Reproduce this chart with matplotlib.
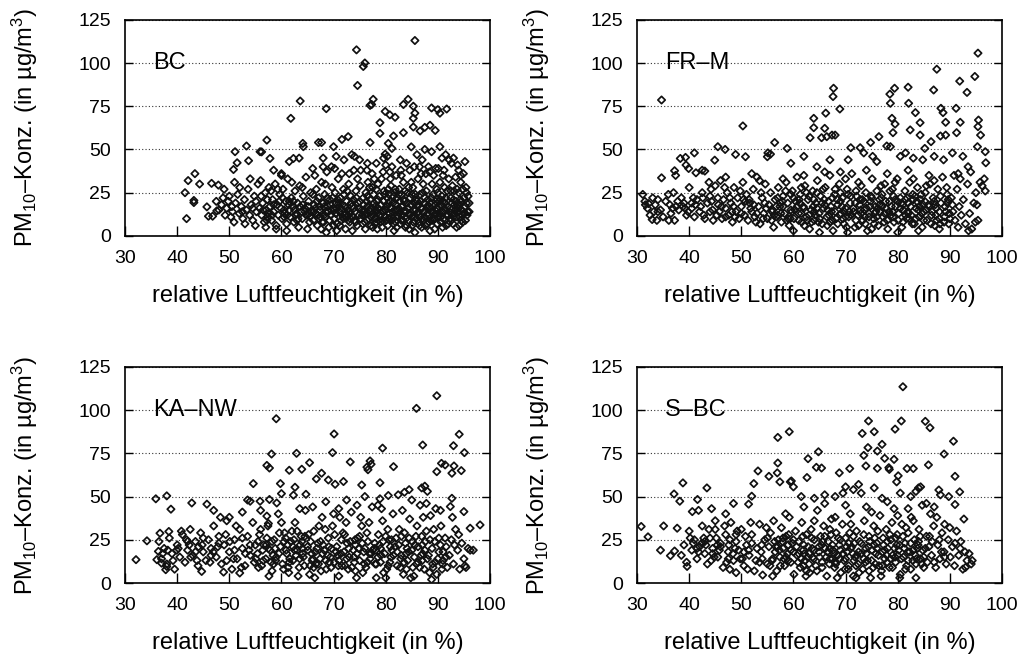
import matplotlib
matplotlib.use("Agg")
import numpy as np
import matplotlib.pyplot as plt

plt.rcParams["font.family"] = ["Liberation Sans", "DejaVu Sans"]
plt.rcParams["mathtext.fontset"] = "custom"
plt.rcParams["mathtext.rm"] = "Liberation Sans"
plt.rcParams["mathtext.it"] = "Liberation Sans:italic"
plt.rcParams["mathtext.default"] = "regular"

# station names
stations = ["BC", "FR\u2013M", "KA\u2013NW", "S\u2013BC"]

x_ticks = [30, 40, 50, 60, 70, 80, 90, 100]
y_ticks = [0, 25, 50, 75, 100, 125]

# (humidity, PM10) pairs, flat lists x0,y0,x1,y1,...
bc_pts = [
    # sparse / outliers
    85.6, 113, 74.4, 107.6, 75.7, 98, 76.0, 100, 74.6, 87, 63.6, 78, 61.8, 68, 68.6, 73.6,
    77.6, 79, 77.3, 76, 77.0, 75.5, 79.9, 72, 80.8, 70, 81.8, 68.6, 83.4, 76, 84.3, 79,
    85.3, 75, 85.6, 71, 85.3, 68, 88.8, 74, 90.0, 73, 90.4, 71, 91.7, 73.4, 78.9, 65.5,
    81.5, 57.8, 83.4, 59.7, 85.3, 63, 86.6, 60.7, 87.5, 62.8, 88.5, 64, 89.5, 61, 78.9, 59.3,
    77.0, 54, 72.8, 57.4, 71.6, 55.8, 70.0, 51.6, 67.1, 54, 67.7, 54, 64.1, 53.5, 64.2, 51.6,
    57.2, 55.4, 55.9, 48.7, 53.3, 52, 51.1, 48.7, 53.7, 43.5, 50.8, 38.4, 51.5, 42.3, 56.2, 48.6,
    57.8, 44.8, 61.5, 43, 62.3, 44.8, 63.4, 45, 80.5, 53.5, 81.2, 50.6, 84.9, 51.5, 88.8, 48.7,
    90.4, 51.6, 79.9, 47.3, 80.3, 46, 41.5, 25, 42.1, 32, 43.4, 36, 44.3, 30, 43.2, 20.5,
    43.2, 19.3, 41.8, 10, 46.6, 30.4, 47.9, 29.4, 45.7, 16.8, 46.0, 11.4, 46.8, 11.4, 47.6, 14.5,
    73.5, 47, 75.0, 44, 76.5, 42, 70.5, 46, 68.0, 45, 66.0, 39, 60.0, 36, 58.5, 38,
    86.0, 47, 87.5, 50, 91.5, 47, 93.0, 45, 94.0, 38,
    # 48-56
    48.5, 18, 48.8, 22, 49.2, 12, 49.5, 16, 49.8, 20, 50.3, 11, 50.6, 14, 50.9, 8,
    51.2, 19, 51.6, 24, 51.9, 13, 52.3, 17, 52.6, 10, 52.9, 21, 53.3, 15, 53.6, 27,
    53.9, 12, 54.2, 18, 54.5, 9, 54.8, 23, 55.2, 14, 55.5, 30, 55.8, 16, 49.0, 27,
    50.0, 23, 51.0, 31, 52.0, 28, 53.0, 7, 54.0, 33, 55.0, 6, 48.0, 15, 47.5, 20,
    # 56-66
    56.2, 12, 56.4, 19, 56.7, 8, 56.9, 25, 57.1, 15, 57.4, 11, 57.6, 28, 57.8, 17,
    58.1, 9, 58.3, 21, 58.5, 14, 58.8, 30, 59.0, 6, 59.2, 18, 59.4, 12, 59.7, 24,
    59.9, 16, 60.1, 10, 60.3, 27, 60.6, 13, 60.8, 20, 61.0, 7, 61.2, 33, 61.5, 15,
    61.7, 11, 61.9, 22, 62.2, 17, 62.4, 8, 62.6, 26, 62.9, 13, 63.1, 19, 63.3, 5,
    63.5, 29, 63.8, 14, 64.0, 10, 64.2, 23, 64.5, 16, 64.7, 34, 64.9, 12, 65.2, 20,
    65.4, 8, 65.6, 25, 65.8, 14, 56.0, 32, 58.0, 26, 60.0, 35, 62.0, 31, 64.0, 28,
    57.0, 5, 59.0, 4, 61.0, 3, 63.0, 9, 65.0, 4, 57.3, 21, 59.6, 20, 61.4, 18,
    63.6, 17, 65.1, 17, 60.5, 15, 62.7, 12,
    # 66-75
    66.1, 9, 66.3, 18, 66.5, 13, 66.7, 27, 66.9, 6, 67.1, 22, 67.3, 15, 67.5, 11,
    67.7, 31, 67.9, 19, 68.1, 8, 68.3, 24, 68.5, 14, 68.7, 37, 68.9, 17, 69.1, 5,
    69.3, 21, 69.5, 12, 69.7, 28, 69.9, 16, 70.1, 10, 70.3, 25, 70.5, 19, 70.7, 7,
    70.9, 33, 71.1, 14, 71.3, 22, 71.5, 9, 71.7, 18, 71.9, 27, 72.1, 12, 72.3, 4,
    72.5, 20, 72.7, 15, 72.9, 30, 73.1, 8, 73.3, 23, 73.5, 17, 73.7, 11, 73.9, 38,
    74.1, 14, 74.3, 26, 74.5, 6, 74.7, 19, 74.9, 12, 75.1, 29, 66.4, 35, 67.6, 4,
    68.4, 30, 69.6, 40, 70.6, 3, 71.6, 36, 72.6, 26, 73.6, 3, 74.6, 33, 66.8, 20,
    67.2, 10, 68.2, 12, 68.8, 22, 69.2, 9, 70.2, 15, 70.8, 21, 71.2, 6, 71.8, 11,
    72.2, 17, 72.8, 9, 73.2, 13, 73.8, 21, 74.2, 8, 74.8, 16, 75.2, 10, 66.2, 14,
    67.4, 17, 69.4, 18, 70.4, 13, 71.4, 16, 72.4, 13, 73.4, 19, 74.4, 22, 75.4, 15, 68.6, 2,
    # 75-96
    75.6, 7, 75.8, 18, 76.0, 12, 76.2, 25, 76.4, 9, 76.6, 31, 76.8, 15, 77.0, 21,
    77.2, 6, 77.4, 36, 77.6, 13, 77.8, 19, 78.0, 10, 78.2, 27, 78.4, 4, 78.6, 16,
    78.8, 23, 79.0, 8, 79.2, 33, 79.4, 14, 79.6, 20, 79.8, 11, 80.0, 41, 80.2, 17,
    80.4, 6, 80.6, 24, 80.8, 13, 81.0, 29, 81.2, 9, 81.4, 19, 81.6, 3, 81.8, 15,
    82.0, 35, 82.2, 22, 82.4, 11, 82.6, 27, 82.8, 7, 83.0, 17, 83.2, 12, 83.4, 31,
    83.6, 20, 83.8, 5, 84.0, 14, 84.2, 25, 84.4, 9, 84.6, 38, 84.8, 18, 85.0, 11,
    85.2, 28, 85.4, 15, 85.6, 2, 85.8, 21, 86.0, 13, 86.2, 33, 86.4, 8, 86.6, 24,
    86.8, 16, 87.0, 10, 87.2, 30, 87.4, 19, 87.6, 6, 87.8, 26, 88.0, 13, 88.2, 40,
    88.4, 17, 88.6, 9, 88.8, 22, 89.0, 14, 89.2, 35, 89.4, 4, 89.6, 20, 89.8, 27,
    90.0, 11, 90.2, 17, 90.4, 31, 90.6, 8, 90.8, 23, 91.0, 14, 91.2, 38, 91.4, 19,
    91.6, 6, 91.8, 26, 92.0, 12, 92.2, 44, 92.4, 16, 92.6, 9, 92.8, 29, 93.0, 21,
    93.2, 13, 93.4, 34, 93.6, 5, 93.8, 18, 94.0, 25, 94.2, 11, 94.4, 31, 94.6, 15,
    94.8, 8, 95.0, 22, 95.2, 17, 95.4, 28, 95.6, 12, 95.8, 23, 96.0, 19,
    75.7, 22, 76.1, 4, 76.5, 17, 76.9, 28, 77.3, 11, 77.7, 24, 78.1, 15, 78.5, 30,
    78.9, 12, 79.3, 5, 79.7, 26, 80.1, 9, 80.5, 19, 80.9, 33, 81.3, 14, 81.7, 25,
    82.1, 5, 82.5, 16, 82.9, 38, 83.3, 9, 83.7, 26, 84.1, 19, 84.5, 4, 84.9, 31,
    85.3, 8, 85.7, 24, 86.1, 17, 86.5, 40, 86.9, 5, 87.3, 14, 87.7, 36, 88.1, 21,
    88.5, 3, 88.9, 30, 89.3, 10, 89.7, 16, 90.1, 39, 90.5, 21, 90.9, 5, 91.3, 28,
    91.7, 12, 92.1, 33, 92.5, 22, 92.9, 7, 93.3, 15, 93.7, 27, 94.1, 6, 94.5, 20,
    94.9, 36, 95.3, 9, 95.7, 14,
    75.9, 14, 76.3, 20, 76.7, 10, 77.1, 16, 77.5, 28, 77.9, 7, 78.3, 20, 78.7, 9,
    79.1, 18, 79.5, 37, 79.9, 15, 80.3, 22, 80.7, 10, 81.1, 16, 81.5, 23, 81.9, 8,
    82.3, 12, 82.7, 20, 83.1, 24, 83.5, 14, 83.9, 10, 84.3, 16, 84.7, 22, 85.1, 6,
    85.5, 19, 85.9, 10, 86.3, 14, 86.7, 20, 87.1, 25, 87.5, 11, 87.9, 17, 88.3, 8,
    88.7, 14, 89.1, 24, 89.5, 18, 89.9, 7, 90.3, 13, 90.7, 18, 91.1, 10, 91.5, 22,
    91.9, 17, 92.3, 10, 92.7, 19, 93.1, 26, 93.5, 11, 93.9, 14, 94.3, 21, 94.7, 12,
    95.1, 13, 95.5, 19,
    76.4, 38, 78.2, 42, 79.6, 45, 81.2, 40, 82.8, 44, 84.0, 42, 85.5, 40, 87.0, 44,
    88.4, 37, 89.6, 39, 90.8, 45, 92.6, 42, 93.8, 41, 95.2, 43, 94.4, 35, 91.0, 35,
    86.8, 36, 83.0, 35, 80.8, 37, 77.8, 33, 75.2, 38, 73.0, 36, 70.2, 39, 68.0, 40,
    72.0, 44, 74.0, 46,
    # extra core
    55.1, 20, 56.1, 23, 57.2, 9, 58.2, 12, 59.3, 27, 60.2, 22, 61.1, 12, 62.3, 20,
    63.2, 10, 64.1, 18, 65.3, 13, 66.0, 24, 67.0, 12, 67.8, 8, 68.0, 19, 69.0, 14,
    69.8, 22, 70.0, 6, 71.0, 19, 71.9, 10, 72.0, 24, 73.0, 14, 73.9, 16, 74.0, 9,
    75.0, 20, 75.5, 12, 76.0, 8, 76.5, 23, 77.0, 14, 77.5, 5, 78.0, 17, 78.5, 21,
    79.0, 12, 79.5, 9, 80.0, 15, 80.5, 27, 81.0, 11, 81.5, 7, 82.0, 18, 82.5, 24,
    83.0, 9, 83.5, 21, 84.0, 6, 84.5, 13, 85.0, 24, 85.5, 11, 86.0, 20, 86.5, 6,
    87.0, 16, 87.5, 22, 88.0, 7, 88.5, 19, 89.0, 9, 89.5, 13, 90.0, 25, 90.5, 11,
    91.0, 20, 91.5, 15, 92.0, 7, 92.5, 26, 93.0, 11, 93.5, 20, 94.0, 16, 94.5, 9,
    95.0, 13, 95.5, 25, 96.0, 14, 78.2, 8, 80.8, 20, 83.2, 17, 85.8, 15, 88.2, 12,
    90.8, 14, 93.2, 18, 76.2, 13, 73.2, 10, 70.6, 16, 68.2, 17, 81.8, 27, 84.4, 28,
    87.2, 9, 89.8, 21, 92.2, 14, 94.8, 27, 79.8, 24, 82.6, 13, 86.6, 11, 91.4, 9,
    50.5, 17, 52.5, 14, 54.5, 16, 56.5, 15, 58.5, 18, 60.5, 11, 62.5, 15, 64.5, 14,
    66.5, 16, 68.5, 11, 70.5, 13, 72.5, 11, 57.5, 13, 61.5, 20, 65.5, 11, 69.5, 15,
    78.4, 13, 82.2, 15, 86.2, 18, 90.2, 20, 94.2, 18, 88.6, 16, 84.6, 12, 80.6, 10,
]

frm_pts = [
    95.4, 105.7, 87.5, 96.4, 91.9, 89.5, 94.8, 92.2, 93.3, 83, 86.9, 84.4, 82.0, 86, 79.4, 85.4,
    78.5, 82, 78.6, 76.7, 82.1, 76.7, 83.4, 71.3, 67.7, 85.4, 67.6, 80.6, 68.9, 73.4, 34.7, 78.6,
    50.3, 63.6, 66.2, 71, 66.0, 62.2, 63.9, 68, 63.9, 62.6, 63.2, 56.8, 65.4, 56.8, 66.4, 57.4,
    67.4, 58.3, 68.0, 58.3, 56.4, 54, 55.1, 48, 55.6, 47.3, 55.0, 45.8, 58.8, 50.6, 72.8, 51,
    74.8, 54, 76.4, 57.4, 77.9, 52, 78.6, 51.6, 78.9, 68, 79.5, 64.7, 79.1, 59.7, 82.4, 61.3,
    84.3, 58.3, 84.3, 65.5, 85.2, 50.6, 86.4, 54.5, 88.3, 73.8, 88.7, 71.3, 89.2, 65.7, 88.2, 57.8,
    89.2, 58.3, 91.2, 73.8, 91.3, 59.7, 92.0, 65.7, 95.4, 63.2, 95.5, 67, 95.9, 58.3, 95.3, 51.6,
    96.8, 48.7, 96.9, 42.3, 34.7, 33.6, 34.0, 21, 37.2, 37.7, 37.4, 35, 38.3, 44.8, 39.3, 45.4,
    39.4, 41, 39.9, 39, 41.0, 48, 44.9, 43.8, 45.5, 51.6, 46.9, 50, 43.0, 37.5, 41.3, 36.5,
    48.9, 47.1, 50.8, 45.8, 32.9, 9.5, 33.8, 9, 36.1, 9, 37.2, 9, 31.1, 24, 31.6, 18, 32.2, 18.7,
    70.5, 44, 71.0, 51, 73.5, 48, 75.2, 46, 76.0, 43, 80.5, 46, 81.5, 48, 83.0, 45,
    84.8, 44, 87.0, 46, 88.8, 44, 90.5, 48, 92.5, 46, 93.5, 40, 91.6, 36, 94.0, 37,
    62.0, 46, 59.5, 42, 64.5, 40, 67.0, 44, 69.0, 37, 52.0, 36, 53.5, 32, 47.0, 34, 42.5, 38,
    # 31-56
    31.5, 20, 32.0, 16, 32.5, 12, 33.0, 22, 33.5, 18, 34.0, 14, 34.5, 15, 35.0, 11,
    35.5, 20, 36.0, 24, 36.5, 13, 37.0, 25, 37.5, 17, 38.0, 15, 38.5, 22, 39.0, 19,
    39.5, 12, 40.0, 28, 40.5, 16, 41.0, 11, 41.5, 21, 42.0, 14, 42.5, 25, 43.0, 10,
    43.5, 19, 44.0, 23, 44.5, 15, 45.0, 29, 45.3, 12, 45.6, 18, 46.0, 32, 46.3, 10,
    46.6, 21, 47.0, 16, 47.3, 25, 47.6, 12, 48.0, 19, 48.3, 8, 48.6, 28, 49.0, 14,
    49.3, 22, 49.6, 10, 50.0, 17, 50.3, 31, 50.6, 12, 51.0, 24, 51.3, 9, 51.6, 19,
    52.0, 14, 52.3, 27, 52.6, 11, 53.0, 34, 53.3, 17, 53.6, 7, 54.0, 22, 54.3, 13,
    54.6, 30, 55.0, 10, 55.3, 18,
    41.2, 18, 42.8, 12, 44.2, 27, 43.8, 31, 40.8, 22, 38.8, 17, 37.8, 20, 36.8, 16,
    39.8, 14, 45.8, 14, 47.8, 22, 49.8, 26, 51.8, 16, 53.8, 25, 50.8, 20, 46.8, 28,
    44.6, 9, 52.8, 8, 48.8, 11, 54.8, 16,
    # 55-90
    55.6, 25, 55.9, 14, 56.2, 5, 56.5, 21, 56.8, 11, 57.1, 28, 57.4, 17, 57.7, 8,
    58.0, 23, 58.3, 13, 58.6, 31, 58.9, 19, 59.2, 6, 59.5, 15, 59.8, 26, 60.1, 10,
    60.4, 20, 60.7, 34, 61.0, 13, 61.3, 24, 61.6, 8, 61.9, 17, 62.2, 29, 62.5, 11,
    62.8, 21, 63.1, 4, 63.4, 15, 63.7, 26, 64.0, 9, 64.3, 19, 64.6, 32, 64.9, 13,
    65.2, 23, 65.5, 7, 65.8, 16, 66.1, 28, 66.4, 11, 66.7, 20, 67.0, 35, 67.3, 14,
    67.6, 3, 67.9, 24, 68.2, 10, 68.5, 18, 68.8, 30, 69.1, 13, 69.4, 22, 69.7, 7,
    70.0, 16, 70.3, 27, 70.6, 11, 70.9, 19, 71.2, 36, 71.5, 14, 71.8, 5, 72.1, 23,
    72.4, 12, 72.7, 18, 73.0, 29, 73.3, 9, 73.6, 15, 73.9, 25, 74.2, 3, 74.5, 13,
    74.8, 20, 75.1, 33, 75.4, 10, 75.7, 17, 76.0, 26, 76.3, 6, 76.6, 14, 76.9, 22,
    77.2, 11, 77.5, 30, 77.8, 16, 78.1, 4, 78.4, 20, 78.7, 12, 79.0, 27, 79.3, 8,
    79.6, 17, 79.9, 33, 80.2, 13, 80.5, 22, 80.8, 5, 81.1, 15, 81.4, 26, 81.7, 10,
    82.0, 19, 82.3, 31, 82.6, 12, 82.9, 24, 83.2, 7, 83.5, 16, 83.8, 28, 84.1, 11,
    84.4, 21, 84.7, 5, 85.0, 14, 85.3, 25, 85.6, 9, 85.9, 18, 86.2, 30, 86.5, 12,
    86.8, 22, 87.1, 6, 87.4, 16, 87.7, 27, 88.0, 10, 88.3, 19, 88.6, 34, 88.9, 8,
    89.2, 14, 89.5, 24, 89.8, 7,
    55.8, 9, 56.7, 17, 57.6, 13, 58.5, 26, 59.4, 10, 60.3, 15, 61.2, 19, 62.1, 6,
    63.0, 12, 63.9, 21, 64.8, 8, 65.7, 27, 66.6, 15, 67.5, 9, 68.4, 21, 69.3, 17,
    70.2, 5, 71.1, 12, 72.0, 26, 72.9, 15, 73.8, 7, 74.7, 17, 75.6, 13, 76.5, 21,
    77.4, 8, 78.3, 14, 79.2, 23, 80.1, 9, 81.0, 18, 81.9, 14, 82.8, 7, 83.7, 20,
    84.6, 13, 85.5, 29, 86.4, 7, 87.3, 12, 88.2, 23, 89.1, 17, 90.0, 10, 58.0, 33,
    62.0, 35, 66.0, 37, 70.0, 33, 74.0, 38, 78.0, 36, 82.0, 38, 86.0, 35, 60.0, 3,
    65.0, 2, 70.4, 2, 75.0, 4, 80.0, 2, 84.0, 3, 88.0, 4, 68.0, 27, 72.5, 31,
    76.8, 29, 79.5, 31, 83.0, 33, 87.0, 32, 57.0, 22, 61.5, 28, 64.5, 25, 69.0, 25,
    73.2, 21, 77.0, 24, 81.5, 21, 85.2, 20, 89.4, 28,
    # 90-97
    90.3, 22, 90.6, 14, 91.0, 9, 91.4, 27, 91.8, 17, 92.2, 12, 92.6, 21, 93.0, 7,
    93.4, 30, 93.8, 13, 94.2, 4, 94.6, 19, 95.0, 25, 95.4, 9, 95.8, 31, 96.2, 29,
    96.6, 33, 96.8, 26, 92.0, 33, 93.6, 3, 94.9, 8, 90.8, 35, 91.6, 5, 95.2, 18,
    # extra core
    40.5, 19, 42.2, 17, 44.0, 14, 45.5, 22, 47.0, 11, 48.5, 17, 50.0, 13, 51.5, 21,
    53.0, 13, 54.5, 19, 56.0, 15, 57.0, 12, 58.0, 17, 59.0, 10, 60.0, 22, 61.0, 9,
    62.0, 16, 63.0, 23, 64.0, 14, 65.0, 10, 66.0, 18, 67.0, 8, 68.0, 14, 69.0, 20,
    70.0, 11, 71.0, 23, 72.0, 9, 73.0, 13, 74.0, 16, 75.0, 22, 76.0, 11, 77.0, 17,
    78.0, 9, 79.0, 14, 80.0, 20, 81.0, 8, 82.0, 13, 83.0, 21, 84.0, 15, 85.0, 9,
    86.0, 17, 87.0, 20, 88.0, 14, 89.0, 11, 90.5, 18, 57.5, 19, 59.5, 24, 61.5, 13,
    63.5, 8, 65.5, 19, 67.5, 22, 69.5, 10, 71.5, 16, 73.5, 20, 75.5, 7, 77.5, 13,
    79.5, 21, 81.5, 12, 83.5, 10, 85.5, 15, 87.5, 9, 89.5, 19, 72.5, 6, 76.5, 18,
    80.5, 16, 84.5, 24, 62.5, 25, 66.5, 6, 70.5, 24, 78.5, 26, 82.5, 17, 74.5, 11,
    64.5, 16, 68.5, 7,
    56.3, 12, 57.9, 20, 59.7, 14, 61.1, 21, 62.7, 9, 64.2, 12, 65.9, 21, 67.2, 17,
    68.9, 12, 70.7, 14, 71.9, 19, 73.7, 11, 74.9, 23, 76.2, 16, 77.7, 20, 79.1, 11,
    80.7, 19, 82.2, 10, 83.3, 23, 84.9, 18, 86.6, 14, 88.1, 7, 89.9, 13, 58.7, 9,
    60.7, 17, 63.8, 17, 66.8, 12, 69.8, 14, 72.8, 21, 75.8, 14, 78.8, 17, 81.8, 22,
    84.2, 17, 87.2, 18, 89.7, 21, 46.2, 17, 48.2, 14, 50.4, 21, 52.4, 18, 54.2, 10,
    44.3, 20, 42.6, 22, 39.2, 16, 36.3, 18, 33.2, 14,
]

kanw_pts = [
    89.8, 108.3, 85.9, 101, 59.0, 95, 70.1, 86.2, 94.1, 86, 87.1, 79.8, 93.0, 79.4, 79.4, 78,
    62.9, 75, 69.8, 75.4, 58.1, 74.6, 95.1, 75.4, 57.2, 68, 57.7, 66.5, 77.0, 70.6, 77.2, 68.7,
    76.4, 67, 76.6, 65.5, 81.5, 67.3, 73.2, 70, 61.5, 65.2, 63.9, 65.8, 65.4, 69.6, 67.7, 63.5,
    66.7, 60.2, 69.0, 59.6, 70.3, 57.1, 71.9, 58.7, 75.4, 56.7, 78.9, 58, 89.8, 64.4, 90.7, 69.2,
    91.4, 68.3, 93.1, 67.7, 92.7, 63.5, 94.5, 65, 92.7, 49, 92.4, 44.2, 95.0, 41.3, 98.1, 33.6,
    96.2, 31.7, 96.8, 19, 54.6, 57.5, 59.8, 57.5, 60.0, 51.7, 62.6, 55.4, 62.3, 50.8, 64.7, 51.3,
    59.1, 46.3, 57.7, 48.3, 57.2, 38.7, 57.5, 34.4, 53.5, 48, 54.0, 47.3, 55.9, 47.3, 38.0, 50.4,
    35.9, 48.7, 38.8, 42.7, 42.8, 46.3, 45.7, 45.6, 34.2, 24.4, 32.1, 13.5, 36.4, 18.3, 36.1, 13.5,
    37.0, 11.5, 37.8, 7.7, 38.0, 9.6, 38.4, 29.8, 36.7, 28.8, 44.7, 6.7, 48.9, 6.3, 52.0, 5.8,
    78.5, 45, 78.9, 48.7, 80.5, 50.6, 82.4, 51, 83.6, 52.5, 84.5, 54, 86.9, 55, 87.5, 56, 88.0, 53,
    66.0, 44, 68.5, 47, 71.0, 43, 72.5, 48, 74.5, 45, 76.0, 50, 85.0, 48, 87.8, 46,
    90.5, 42, 52.5, 41, 50.0, 38, 47.0, 42, 56.0, 42, 63.5, 43,
    # 36-55
    36.5, 24, 37.0, 14, 37.5, 20, 38.0, 11, 38.5, 26, 39.0, 17, 39.5, 8, 40.0, 22,
    40.5, 15, 41.0, 28, 41.5, 12, 42.0, 19, 42.5, 31, 43.0, 16, 43.5, 24, 44.0, 10,
    44.5, 29, 45.0, 18, 39.2, 13, 40.8, 30, 42.3, 22, 43.8, 13, 44.8, 22, 41.8, 25,
    38.2, 19, 37.2, 17, 45.5, 13, 46.0, 25, 46.5, 20, 47.0, 33, 47.5, 15, 48.0, 27,
    48.5, 11, 49.0, 22, 49.5, 36, 50.0, 18, 50.5, 8, 51.0, 25, 51.5, 14, 52.0, 31,
    52.5, 20, 53.0, 10, 53.5, 27, 54.0, 16, 54.5, 35, 55.0, 22, 46.3, 12, 47.8, 21,
    49.3, 28, 50.8, 14, 52.3, 9, 53.8, 19, 54.8, 12, 48.3, 38, 51.3, 33,
    # 55-92
    55.4, 17, 55.8, 28, 56.2, 10, 56.6, 22, 57.0, 14, 57.4, 33, 57.8, 19, 58.2, 7,
    58.6, 25, 59.0, 15, 59.4, 40, 59.8, 21, 60.2, 11, 60.6, 29, 61.0, 17, 61.4, 6,
    61.8, 24, 62.2, 13, 62.6, 35, 63.0, 19, 63.4, 9, 63.8, 27, 64.2, 15, 64.6, 42,
    65.0, 21, 65.4, 5, 65.8, 17, 66.2, 30, 66.6, 11, 67.0, 23, 67.4, 14, 67.8, 38,
    68.2, 19, 68.6, 8, 69.0, 26, 69.4, 15, 69.8, 33, 70.2, 12, 70.6, 21, 71.0, 4,
    71.4, 17, 71.8, 29, 72.2, 10, 72.6, 23, 73.0, 15, 73.4, 41, 73.8, 19, 74.2, 7,
    74.6, 26, 75.0, 13, 75.4, 33, 75.8, 18, 76.2, 9, 76.6, 24, 77.0, 14, 77.4, 44,
    77.8, 20, 78.2, 3, 78.6, 28, 79.0, 12, 79.4, 36, 79.8, 17, 80.2, 8, 80.6, 25,
    81.0, 15, 81.4, 40, 81.8, 21, 82.2, 10, 82.6, 31, 83.0, 16, 83.4, 5, 83.8, 23,
    84.2, 13, 84.6, 37, 85.0, 19, 85.4, 4, 85.8, 27, 86.2, 12, 86.6, 45, 87.0, 22,
    87.4, 8, 87.8, 30, 88.2, 16, 88.6, 39, 89.0, 11, 89.4, 24, 89.8, 5, 90.2, 18,
    90.6, 33, 91.0, 13, 91.4, 26, 91.8, 9,
    55.6, 9, 56.4, 19, 57.2, 26, 58.0, 12, 58.8, 20, 59.6, 29, 60.4, 8, 61.2, 22,
    62.0, 30, 62.8, 16, 63.6, 22, 64.4, 10, 65.2, 28, 66.0, 14, 66.8, 20, 67.6, 7,
    68.4, 31, 69.2, 12, 70.0, 40, 70.8, 16, 71.6, 10, 72.4, 35, 73.2, 24, 74.0, 12,
    74.8, 20, 75.6, 6, 76.4, 29, 77.2, 17, 78.0, 11, 78.8, 22, 79.6, 6, 80.4, 31,
    81.2, 19, 82.0, 26, 82.8, 9, 83.6, 29, 84.4, 18, 85.2, 9, 86.0, 33, 86.8, 16,
    87.6, 24, 88.4, 6, 89.2, 31, 90.0, 14, 90.8, 8, 91.6, 21, 60.0, 35, 63.2, 4,
    67.2, 33, 71.2, 38, 75.2, 38, 79.2, 43, 83.2, 42, 87.2, 38, 89.6, 43, 57.6, 4,
    66.4, 3, 74.4, 3, 80.0, 3, 84.8, 3, 88.8, 2, 72.8, 8, 69.6, 20, 76.8, 35,
    61.6, 14, 65.6, 24, 80.8, 12, 85.6, 22, 58.4, 16,
    # 92-96
    92.2, 16, 92.6, 25, 93.0, 11, 93.4, 31, 93.8, 19, 94.2, 8, 94.6, 23, 95.0, 14,
    95.4, 9, 95.8, 20, 96.2, 19, 92.8, 38, 94.0, 28, 93.2, 22, 95.2, 10,
    # extra core
    40.2, 20, 42.0, 24, 43.5, 18, 45.0, 26, 46.5, 16, 48.0, 23, 49.5, 13, 51.0, 19,
    52.5, 26, 54.0, 22, 55.5, 24, 56.5, 13, 57.5, 20, 58.5, 11, 59.5, 17, 60.5, 24,
    61.5, 12, 62.5, 19, 63.5, 14, 64.5, 27, 65.5, 10, 66.5, 18, 67.5, 24, 68.5, 13,
    69.5, 9, 70.5, 18, 71.5, 25, 72.5, 14, 73.5, 9, 74.5, 17, 75.5, 23, 76.5, 12,
    77.5, 19, 78.5, 15, 79.5, 24, 80.5, 10, 81.5, 16, 82.5, 22, 83.5, 12, 84.5, 26,
    85.5, 15, 86.5, 9, 87.5, 19, 88.5, 25, 89.5, 12, 90.5, 22, 91.5, 15, 56.0, 31,
    60.8, 26, 64.0, 20, 68.0, 22, 72.0, 18, 76.0, 20, 80.0, 27, 84.0, 8, 88.0, 14,
    62.2, 21, 66.2, 9, 70.2, 28, 74.2, 22, 78.2, 11, 82.2, 18, 86.2, 21, 90.2, 26,
    58.2, 24, 63.0, 30, 71.0, 13, 75.0, 27, 79.0, 20, 83.0, 27, 87.0, 13, 91.0, 18,
    57.1, 22, 58.9, 13, 60.9, 19, 62.4, 25, 64.1, 17, 65.9, 13, 67.9, 17, 69.1, 21,
    70.9, 10, 72.9, 20, 73.9, 15, 75.9, 11, 77.9, 23, 79.1, 16, 80.9, 21, 82.9, 14,
    84.1, 20, 85.9, 11, 87.1, 17, 88.9, 20, 90.9, 11, 61.3, 9, 65.1, 19, 68.9, 16,
    72.1, 28, 76.9, 17, 81.1, 25, 85.1, 24, 89.1, 9, 46.9, 18, 44.1, 21, 42.6, 15,
    39.9, 19, 50.1, 24, 53.1, 17, 55.1, 14, 63.9, 24, 67.1, 11, 74.1, 25, 78.1, 19,
    83.9, 17, 86.9, 27,
]

sbc_pts = [
    81.0, 113.5, 80.7, 93.7, 74.4, 93.7, 85.3, 93.5, 86.2, 89.8, 75.5, 87.5, 79.5, 89, 73.2, 86.5,
    59.2, 87.5, 57.0, 84.2, 90.7, 82, 88.9, 74.6, 77.0, 80.2, 76.1, 76.3, 74.3, 78.3, 73.5, 73.8,
    64.8, 75.9, 62.8, 71.9, 79.3, 71.5, 77.5, 72.1, 78.3, 66.7, 78.4, 65.7, 73.9, 67.7, 76.1, 66.3,
    81.8, 66.2, 83.0, 66.2, 85.9, 68.3, 64.4, 66.9, 65.4, 66.5, 57.0, 69.4, 53.2, 64.8, 55.3, 61.7,
    56.9, 63.7, 57.4, 58.5, 59.6, 59, 59.4, 58.5, 60.0, 55.6, 62.6, 61, 68.8, 63.7, 70.8, 66.2,
    80.1, 62, 79.8, 58.5, 91.0, 61.7, 89.8, 50, 91.0, 45.4, 91.9, 52.7, 92.7, 37, 87.9, 53.8,
    88.2, 51, 84.0, 55, 84.4, 55.6, 52.4, 57.5, 52.0, 50.2, 51.4, 45.6, 43.4, 55, 44.3, 43,
    38.8, 57.9, 37.1, 51.5, 38.2, 47.3, 37.7, 31.7, 35.1, 33, 30.8, 32.7, 32.1, 26.7, 34.5, 19,
    36.4, 15.8, 37.2, 18.5, 39.6, 9.6, 40.6, 41.3, 41.8, 42, 41.6, 48.3, 47.8, 7.9, 49.0, 6,
    54.1, 4.6, 70.0, 55.6,
    69.5, 52, 71.5, 54, 72.5, 57, 68.0, 50, 66.0, 51, 64.0, 49, 61.5, 50, 73.0, 52,
    75.5, 55, 77.0, 49, 80.5, 52, 82.5, 50, 83.5, 53, 85.5, 46, 87.0, 44, 48.5, 46,
    47.0, 40, 45.0, 36,
    # 38-55
    38.5, 16, 39.0, 22, 39.5, 12, 40.0, 30, 40.5, 19, 41.0, 25, 41.5, 14, 42.0, 21,
    42.5, 33, 43.0, 17, 43.5, 11, 44.0, 26, 44.5, 20, 45.0, 31, 45.5, 15, 46.0, 23,
    46.5, 9, 47.0, 28, 47.5, 18, 48.0, 35, 48.5, 13, 49.0, 24, 49.5, 19, 50.0, 31,
    50.5, 10, 51.0, 22, 51.5, 16, 52.0, 28, 52.5, 7, 53.0, 20, 53.5, 34, 54.0, 14,
    54.5, 25, 55.0, 11, 40.8, 23, 42.8, 26, 44.8, 15, 46.8, 33, 48.8, 20, 50.8, 27,
    52.8, 13, 54.8, 32, 41.8, 18, 43.8, 31, 45.8, 19, 47.8, 25, 49.8, 14, 51.8, 35,
    53.8, 18, 43.2, 22, 45.2, 26, 47.2, 12, 49.2, 30, 51.2, 8,
    # 55-85
    55.3, 21, 55.6, 29, 55.9, 13, 56.2, 36, 56.5, 18, 56.8, 7, 57.1, 25, 57.4, 15,
    57.7, 32, 58.0, 20, 58.3, 10, 58.6, 27, 58.9, 17, 59.2, 38, 59.5, 12, 59.8, 23,
    60.1, 5, 60.4, 30, 60.7, 16, 61.0, 24, 61.3, 9, 61.6, 35, 61.9, 19, 62.2, 13,
    62.5, 28, 62.8, 21, 63.1, 6, 63.4, 31, 63.7, 15, 64.0, 25, 64.3, 10, 64.6, 42,
    64.9, 18, 65.2, 27, 65.5, 12, 65.8, 33, 66.1, 20, 66.4, 4, 66.7, 24, 67.0, 14,
    67.3, 37, 67.6, 19, 67.9, 9, 68.2, 29, 68.5, 16, 68.8, 22, 69.1, 6, 69.4, 34,
    69.7, 13, 70.0, 26, 70.3, 18, 70.6, 10, 70.9, 40, 71.2, 21, 71.5, 4, 71.8, 15,
    72.1, 30, 72.4, 11, 72.7, 24, 73.0, 17, 73.3, 8, 73.6, 36, 73.9, 20, 74.2, 13,
    74.5, 27, 74.8, 3, 75.1, 19, 75.4, 33, 75.7, 11, 76.0, 23, 76.3, 16, 76.6, 39,
    76.9, 7, 77.2, 26, 77.5, 14, 77.8, 31, 78.1, 20, 78.4, 9, 78.7, 25, 79.0, 16,
    79.3, 43, 79.6, 12, 79.9, 28, 80.2, 19, 80.5, 5, 80.8, 34, 81.1, 15, 81.4, 23,
    81.7, 10, 82.0, 29, 82.3, 18, 82.6, 38, 82.9, 13, 83.2, 25, 83.5, 3, 83.8, 20,
    84.1, 31, 84.4, 14, 84.7, 45, 85.0, 9,
    55.5, 10, 56.4, 24, 57.3, 19, 58.2, 14, 59.1, 28, 60.0, 18, 60.9, 12, 61.8, 27,
    62.7, 15, 63.6, 20, 64.5, 7, 65.4, 22, 66.3, 15, 67.2, 28, 68.1, 11, 69.0, 19,
    69.9, 8, 70.8, 29, 71.7, 23, 72.6, 6, 73.5, 14, 74.4, 21, 75.3, 9, 76.2, 30,
    77.1, 18, 78.0, 12, 78.9, 35, 79.8, 22, 80.7, 14, 81.6, 32, 82.5, 8, 83.4, 16,
    84.3, 27, 58.5, 40, 62.0, 44, 66.0, 46, 70.0, 45, 74.0, 44, 78.0, 47, 82.0, 43,
    56.0, 4, 62.4, 4, 68.4, 3, 72.0, 3, 76.8, 4, 80.4, 3, 64.0, 36, 68.0, 38,
    71.0, 34, 75.0, 41, 80.0, 39, 83.0, 36, 59.0, 22, 63.0, 17, 67.5, 22, 71.4, 17,
    75.6, 26, 79.4, 20, 83.9, 22,
    # 85-94
    85.3, 20, 85.7, 12, 86.1, 27, 86.5, 16, 86.9, 33, 87.3, 9, 87.7, 22, 88.1, 14,
    88.5, 29, 88.9, 18, 89.3, 11, 89.7, 25, 90.1, 15, 90.5, 21, 90.9, 10, 91.3, 30,
    91.7, 16, 92.1, 24, 92.5, 8, 92.9, 18, 93.3, 13, 93.7, 17, 94.1, 11, 94.3, 13,
    86.3, 40, 87.5, 38, 89.0, 34, 90.0, 32, 91.0, 23, 92.0, 20, 93.0, 9,
    # extra core
    40.2, 26, 41.5, 20, 43.0, 24, 44.5, 17, 46.0, 21, 47.5, 14, 49.0, 28, 50.5, 18,
    52.0, 23, 53.5, 12, 55.0, 26, 56.0, 14, 57.0, 21, 58.0, 26, 59.0, 13, 60.0, 25,
    61.0, 17, 62.0, 22, 63.0, 11, 64.0, 19, 65.0, 15, 66.0, 27, 67.0, 20, 68.0, 12,
    69.0, 25, 70.0, 14, 71.0, 20, 72.0, 10, 73.0, 23, 74.0, 17, 75.0, 13, 76.0, 20,
    77.0, 10, 78.0, 24, 79.0, 9, 80.0, 16, 81.0, 27, 82.0, 13, 83.0, 19, 84.0, 24,
    85.0, 15, 86.0, 21, 87.0, 12, 88.0, 25, 89.0, 15, 57.5, 10, 61.5, 14, 65.5, 9,
    69.5, 17, 73.5, 28, 77.5, 19, 81.5, 8, 85.5, 27, 63.5, 26, 67.5, 14, 71.5, 27,
    75.5, 22, 79.5, 15, 83.5, 11, 59.5, 19, 67.0, 31, 72.5, 18, 78.5, 28, 82.5, 23,
    70.5, 8, 74.5, 7, 62.5, 7, 66.5, 18,
    56.6, 21, 58.6, 15, 60.6, 21, 62.1, 17, 63.9, 14, 65.6, 24, 67.8, 17, 68.9, 14,
    70.6, 23, 72.2, 16, 73.8, 12, 75.8, 17, 77.3, 22, 78.6, 14, 80.4, 22, 81.9, 18,
    83.6, 14, 84.8, 19, 86.6, 24, 88.4, 18, 57.9, 24, 61.9, 10, 64.9, 21, 68.6, 26,
    71.6, 13, 74.6, 24, 77.9, 16, 81.3, 20, 84.6, 11, 42.4, 23, 45.4, 22, 48.4, 17,
    51.4, 19, 53.9, 22, 44.2, 13, 47.6, 22, 50.2, 14, 66.9, 11, 70.2, 21, 76.4, 10,
    79.6, 26,
]

all_pts = [bc_pts, frm_pts, kanw_pts, sbc_pts]

fig = plt.figure(figsize=(10.25, 6.59), dpi=100)
lefts = [0.122, 0.6215, 0.122, 0.6215]
bottoms = [0.642, 0.642, 0.1153, 0.1153]

for i in range(4):
    ax = fig.add_axes([lefts[i], bottoms[i], 0.356, 0.328])
    pts = np.array(all_pts[i], dtype=float)
    xs = pts[0::2]
    ys = pts[1::2]

    ax.scatter(xs, ys, marker="D", s=14, facecolors="none",
               edgecolors="#111111", linewidths=1.25, zorder=3)

    ax.set_xlim(30, 100)
    ax.set_ylim(0, 125)
    ax.set_xticks(x_ticks)
    ax.set_yticks(y_ticks)

    ax.grid(axis="y", linestyle=(0, (1, 2)), color="#333333", linewidth=0.8)
    ax.set_axisbelow(True)

    ax.tick_params(axis="x", direction="in", length=7, width=1, top=False,
                   labelsize=14, pad=10)
    ax.tick_params(axis="y", direction="in", length=6, width=1, right=True,
                   labelsize=14, pad=10)
    for sp in ax.spines.values():
        sp.set_linewidth(1.2)

    ax.set_xlabel("relative Luftfeuchtigkeit (in %)", fontsize=17)
    ax.set_ylabel("PM$_{10}$\u2013Konz. (in \u00b5g/m$^3$)", fontsize=17)
    ax.xaxis.set_label_coords(0.5, -0.225)
    ax.yaxis.set_label_coords(-0.233, 0.5)

    ax.text(35.3, 100, stations[i], fontsize=17, ha="left", va="center", zorder=4)

plt.savefig("out.png", dpi=100)
